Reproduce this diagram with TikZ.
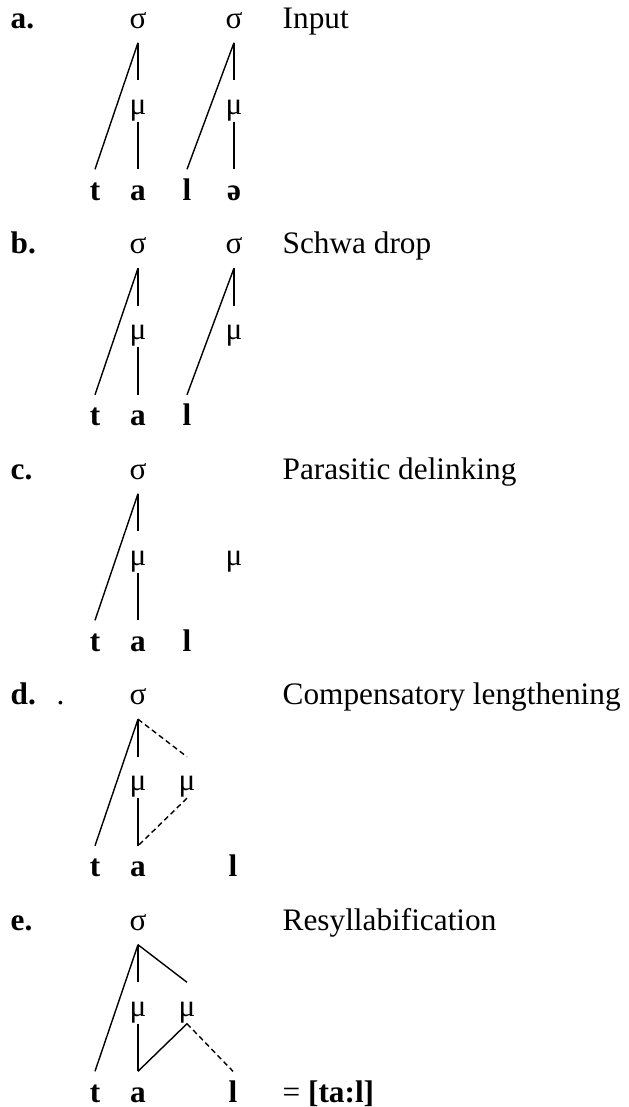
\documentclass[tikz,border=0pt]{standalone}
\usepackage{fontspec}
\setmainfont{Liberation Serif}

\tikzset{
  syl/.style={anchor=base,inner sep=0pt,text depth=0.14cm},
  mora/.style={anchor=base,inner sep=0pt,text height=0.33cm,text depth=0.07cm},
  seg/.style={anchor=base,inner sep=0pt,text height=0.30cm,font=\bfseries},
  lbl/.style={anchor=base west,inner sep=0pt,font=\bfseries},
  title/.style={anchor=base west,inner sep=0pt},
  assoc/.style={line width=0.4pt},
  newassoc/.style={line width=0.4pt,dash pattern=on 1.5pt off 1pt}
}

\begin{document}
\fontsize{8.9}{10.5}\selectfont
\begin{tikzpicture}
    \useasboundingbox (0,0) rectangle (6.29,-11.07);

    % a. input
    \begin{scope}[shift={(0,-0.28)}]
        \node[lbl] (a-lbl) at (0.10,0) {a.};
        \node[title] (a-title) at (2.82,0) {Input};
        \node[syl] (a-s1) at (1.38,0) {σ};
        \node[syl] (a-s2) at (2.34,0) {σ};
        \node[mora] (a-m1) at (1.38,-0.86) {μ};
        \node[mora] (a-m2) at (2.34,-0.86) {μ};
        \node[seg] (a-t) at (0.95,-1.72) {t};
        \node[seg] (a-a) at (1.38,-1.72) {a};
        \node[seg] (a-l) at (1.87,-1.72) {l};
        \node[seg] (a-e) at (2.34,-1.72) {ə};
        \draw[assoc] (a-s1.south) -- (a-t.north);
        \draw[assoc] (a-s1.south) -- (a-m1.north);
        \draw[assoc] (a-m1.south) -- (a-a.north);
        \draw[assoc] (a-s2.south) -- (a-l.north);
        \draw[assoc] (a-s2.south) -- (a-m2.north);
        \draw[assoc] (a-m2.south) -- (a-e.north);
    \end{scope}

    % b. schwa drop
    \begin{scope}[shift={(0,-2.535)}]
        \node[lbl] (b-lbl) at (0.10,0) {b.};
        \node[title] (b-title) at (2.82,0) {Schwa drop};
        \node[syl] (b-s1) at (1.38,0) {σ};
        \node[syl] (b-s2) at (2.34,0) {σ};
        \node[mora] (b-m1) at (1.38,-0.86) {μ};
        \node[mora] (b-m2) at (2.34,-0.86) {μ};
        \node[seg] (b-t) at (0.95,-1.72) {t};
        \node[seg] (b-a) at (1.38,-1.72) {a};
        \node[seg] (b-l) at (1.87,-1.72) {l};
        \draw[assoc] (b-s1.south) -- (b-t.north);
        \draw[assoc] (b-s1.south) -- (b-m1.north);
        \draw[assoc] (b-m1.south) -- (b-a.north);
        \draw[assoc] (b-s2.south) -- (b-l.north);
        \draw[assoc] (b-s2.south) -- (b-m2.north);
    \end{scope}

    % c. parasitic delinking
    \begin{scope}[shift={(0,-4.79)}]
        \node[lbl] (c-lbl) at (0.10,0) {c.};
        \node[title] (c-title) at (2.82,0) {Parasitic delinking};
        \node[syl] (c-s1) at (1.38,0) {σ};
        \node[mora] (c-m1) at (1.38,-0.86) {μ};
        \node[mora] (c-m2) at (2.34,-0.86) {μ};
        \node[seg] (c-t) at (0.95,-1.72) {t};
        \node[seg] (c-a) at (1.38,-1.72) {a};
        \node[seg] (c-l) at (1.87,-1.72) {l};
        \draw[assoc] (c-s1.south) -- (c-t.north);
        \draw[assoc] (c-s1.south) -- (c-m1.north);
        \draw[assoc] (c-m1.south) -- (c-a.north);
    \end{scope}

    % d. compensatory lengthening
    \begin{scope}[shift={(0,-7.045)}]
        \node[lbl] (d-lbl) at (0.10,0) {d.};
        \node[title] (d-dot) at (0.56,0) {.};
        \node[title] (d-title) at (2.82,0) {Compensatory lengthening};
        \node[syl] (d-s1) at (1.38,0) {σ};
        \node[mora] (d-m1) at (1.38,-0.86) {μ};
        \node[mora] (d-m2) at (1.87,-0.86) {μ};
        \node[seg] (d-t) at (0.95,-1.72) {t};
        \node[seg] (d-a) at (1.38,-1.72) {a};
        \node[seg] (d-l) at (2.33,-1.72) {l};
        \draw[assoc] (d-s1.south) -- (d-t.north);
        \draw[assoc] (d-s1.south) -- (d-m1.north);
        \draw[assoc] (d-m1.south) -- (d-a.north);
        \draw[newassoc] (d-s1.south) -- (d-m2.north);
        \draw[newassoc] (d-m2.south) -- (d-a.north);
    \end{scope}

    % e. resyllabification
    \begin{scope}[shift={(0,-9.30)}]
        \node[lbl] (e-lbl) at (0.10,0) {e.};
        \node[title] (e-title) at (2.82,0) {Resyllabification};
        \node[syl] (e-s1) at (1.38,0) {σ};
        \node[mora] (e-m1) at (1.38,-0.86) {μ};
        \node[mora] (e-m2) at (1.87,-0.86) {μ};
        \node[seg] (e-t) at (0.95,-1.72) {t};
        \node[seg] (e-a) at (1.38,-1.72) {a};
        \node[seg] (e-l) at (2.33,-1.72) {l};
        \node[title] (e-out) at (2.82,-1.72) {= \textbf{[ta:l]}};
        \draw[assoc] (e-s1.south) -- (e-t.north);
        \draw[assoc] (e-s1.south) -- (e-m1.north);
        \draw[assoc] (e-s1.south) -- (e-m2.north);
        \draw[assoc] (e-m1.south) -- (e-a.north);
        \draw[assoc] (e-m2.south) -- (e-a.north);
        \draw[newassoc] (e-m2.south) -- (e-l.north);
    \end{scope}
\end{tikzpicture}
\end{document}
